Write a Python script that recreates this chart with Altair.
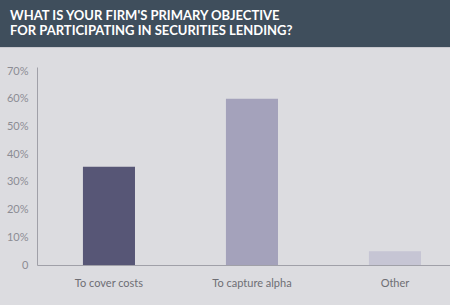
import altair as alt
import pandas as pd

categories = ["To cover costs", "To capture alpha", "Other"]
values = [35.5, 60, 5]
colors = ["#575676", "#a4a2bb", "#c6c5d4"]
title_lines = ["WHAT IS YOUR FIRM'S PRIMARY OBJECTIVE", "FOR PARTICIPATING IN SECURITIES LENDING?"]

df = pd.DataFrame({"cat": categories, "val": values, "col": colors})
hdr = pd.DataFrame({"t": ["\n".join(title_lines)]})

W, H = 413, 198

bars = alt.Chart(df).mark_bar().encode(
    x=alt.X("cat:N", sort=categories, title=None,
            scale=alt.Scale(paddingInner=0.636, paddingOuter=0.262, align=0.613),
            axis=alt.Axis(labelAngle=0, ticks=False, domainColor="#a0a0a8", labelColor="#6e6e74",
                          labelFont="Lato", labelFontSize=11, labelPadding=12, grid=False)),
    y=alt.Y("val:Q", title=None,
            scale=alt.Scale(domain=[0, 71.5], nice=False),
            axis=alt.Axis(values=[0, 10, 20, 30, 40, 50, 60, 70], ticks=False, grid=False,
                          domainColor="#a0a0a8", labelColor="#8c8c94", labelFont="Lato",
                          labelFontSize=11, labelPadding=9,
                          labelExpr="datum.value == 0 ? '0' : datum.value + '%'")),
    color=alt.Color("col:N", scale=None, legend=None),
)

header = alt.Chart(hdr).mark_rect(color="#3f4e5c").encode(
    x=alt.value(-37), x2=alt.value(W), y=alt.value(-67), y2=alt.value(-20)
)
header_line = alt.Chart(hdr).mark_rect(color="#c8c8ce").encode(
    x=alt.value(-37), x2=alt.value(W), y=alt.value(-20), y2=alt.value(-19)
)
header_text = alt.Chart(hdr).mark_text(
    color="white", font="Lato", fontSize=13, fontWeight="bold", align="left",
    baseline="alphabetic", lineBreak="\n", lineHeight=14.5
).encode(x=alt.value(-27), y=alt.value(-47), text="t:N")

chart = alt.layer(header, header_line, bars, header_text).properties(
    width=W, height=H,
    autosize=alt.AutoSizeParams(type="none"),
    padding={"left": 37, "top": 67, "right": 0, "bottom": 40},
    background="#dcdce0",
).configure_view(stroke=None)

chart.save("out.html", embed_options={"renderer": "svg", "actions": False})
